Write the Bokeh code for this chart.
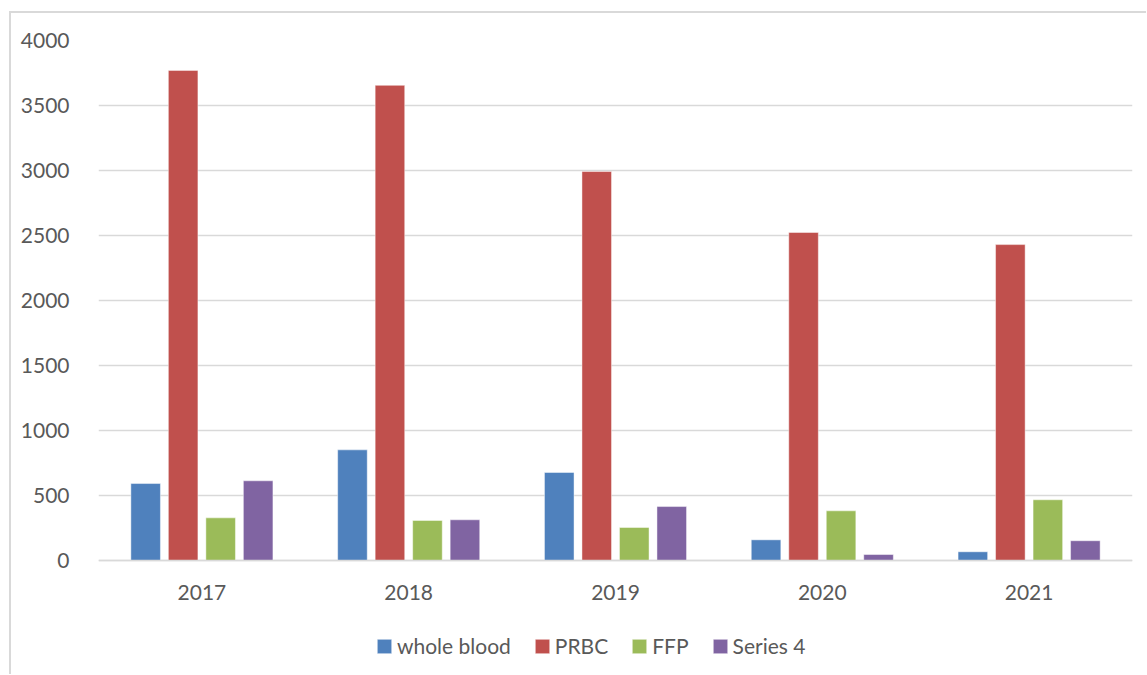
from bokeh.plotting import figure
from bokeh.models import (ColumnDataSource, FactorRange, Range1d, FixedTicker,
                          Legend, LegendItem)
from bokeh.transform import dodge
from bokeh.embed import file_html
from bokeh.resources import INLINE

years = ["2017", "2018", "2019", "2020", "2021"]
whole_blood = [592, 851, 677, 159, 67]
prbc = [3770, 3655, 2992, 2523, 2430]
ffp = [328, 308, 254, 382, 467]
series4 = [613, 313, 415, 46, 152]
series_names = ["whole blood", "PRBC", "FFP", "Series 4"]
y_ticks = [0, 500, 1000, 1500, 2000, 2500, 3000, 3500, 4000]

colors = ["#4F81BD", "#C0504D", "#9BBB59", "#8064A2"]
FONT = "Lato"
TXT = "#595959"
GRID = "#D9D9D9"

# layout: value axis 0..4000 spans 520 px; the frame continues below 0 to hold labels + legend
FRAME_H = 634
PX_PER_UNIT = 520 / 4000
y_start = -(FRAME_H - 520) / PX_PER_UNIT

src = ColumnDataSource(dict(year=years, wb=whole_blood, prbc=prbc, ffp=ffp, s4=series4))

p = figure(x_range=FactorRange(*years), y_range=Range1d(y_start, 4000),
           frame_width=1034, frame_height=FRAME_H,
           min_border_left=87, min_border_top=27, min_border_right=14, min_border_bottom=0,
           output_backend="svg", toolbar_location=None,
           background_fill_color="white", border_fill_color="white",
           outline_line_color=None)
p.margin = (11, 0, 0, 9)
p.styles = {"border-left": "2px solid #D9D9D9", "border-top": "2px solid #D9D9D9"}

cols = ["wb", "prbc", "ffp", "s4"]
offsets = [-0.272, -0.0907, 0.0907, 0.272]
renderers = []
for c, off, col in zip(cols, offsets, colors):
    r = p.vbar(x=dodge("year", off, range=p.x_range), top=c, bottom=0, width=0.143,
               source=src, fill_color=col, line_color="white", line_alpha=0.45, line_width=1)
    renderers.append(r)

p.xgrid.grid_line_color = None
p.ygrid.grid_line_color = GRID
p.ygrid.grid_line_width = 1.5
p.yaxis.ticker = FixedTicker(ticks=y_ticks)

for ax in (p.xaxis[0], p.yaxis[0]):
    ax.major_tick_line_color = None
    ax.minor_tick_line_color = None
    ax.major_label_text_font = FONT
    ax.major_label_text_font_size = "21px"
    ax.major_label_text_color = TXT
p.yaxis.axis_line_color = None
p.yaxis.major_label_standoff = 23
p.xaxis.fixed_location = 0
p.xaxis.axis_line_color = GRID
p.xaxis.axis_line_width = 1.5
p.xaxis.major_label_standoff = 18

items = [LegendItem(label=n, renderers=[r]) for n, r in zip(series_names, renderers)]
legend = Legend(items=items, orientation="horizontal", location=(277, 16),
                glyph_width=18, glyph_height=18, label_standoff=4, spacing=22,
                padding=0, margin=0, border_line_color=None, background_fill_alpha=0,
                label_text_font=FONT, label_text_font_size="21px", label_text_color=TXT)
p.add_layout(legend, "center")

open("out.html", "w").write(file_html(p, INLINE))
